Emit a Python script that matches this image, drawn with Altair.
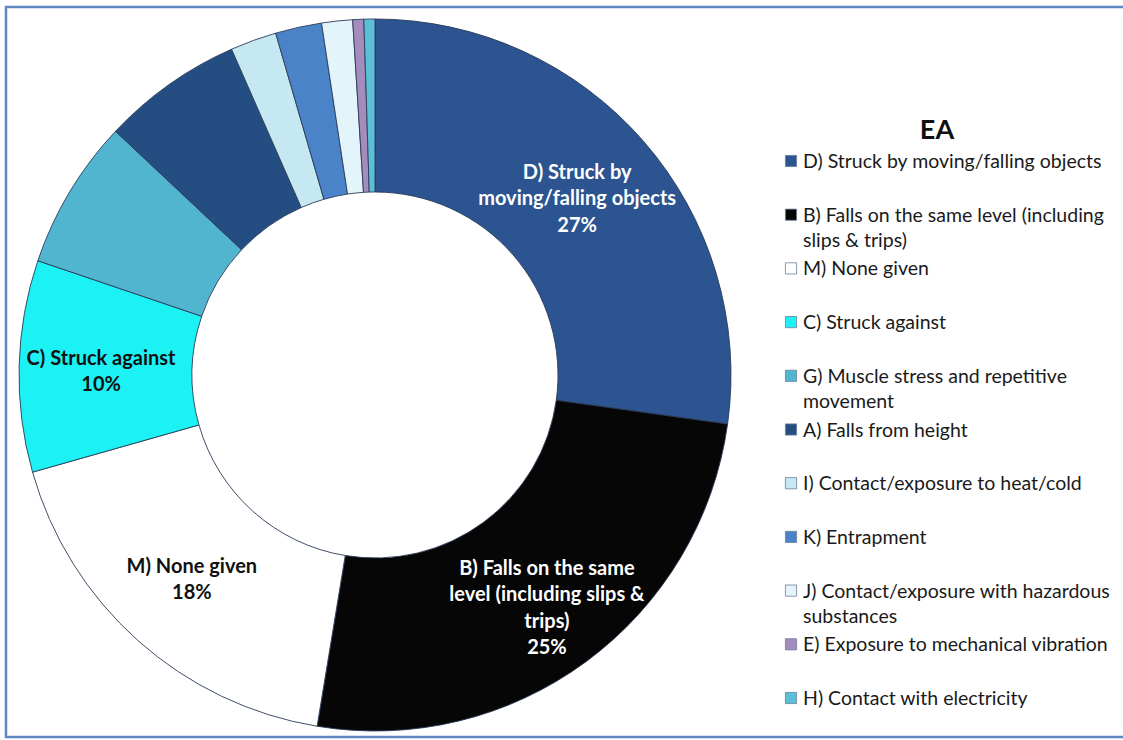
import altair as alt
import pandas as pd

# ---- data ----
categories = [
    "D) Struck by moving/falling objects",
    "B) Falls on the same level (including slips & trips)",
    "M) None given",
    "C) Struck against",
    "G) Muscle stress and repetitive movement",
    "A) Falls from height",
    "I)  Contact/exposure to heat/cold",
    "K) Entrapment",
    "J) Contact/exposure with hazardous substances",
    "E) Exposure to mechanical vibration",
    "H) Contact with electricity",
]
values = [27.2, 25.4, 18.0, 9.6, 6.8, 6.4, 2.1, 2.1, 1.4, 0.5, 0.5]
slice_label_names = [
    "D) Struck by\nmoving/falling objects",
    "B) Falls on the same\nlevel (including slips &\ntrips)",
    "M) None given",
    "C) Struck against",
]
legend_labels = [
    "D) Struck by moving/falling objects",
    "B) Falls on the same level (including\nslips & trips)",
    "M) None given",
    "C) Struck against",
    "G) Muscle stress and repetitive\nmovement",
    "A) Falls from height",
    "I)  Contact/exposure to heat/cold",
    "K) Entrapment",
    "J) Contact/exposure with hazardous\nsubstances",
    "E) Exposure to mechanical vibration",
    "H) Contact with electricity",
]
palette = [
    "#2b5490", "#060606", "#ffffff", "#1cf2f4", "#52b5d0", "#244e82",
    "#c6e8f2", "#4b83c8", "#e3f4fa", "#a48dbd", "#5cbfd8",
]
legend_title = "EA"

# ---- build table ----
labels = []
for i, v in enumerate(values):
    if i < len(slice_label_names):
        labels.append(f"{slice_label_names[i]}\n{round(v):.0f}%")
    else:
        labels.append("")

df = pd.DataFrame({
    "idx": list(range(len(categories))),
    "cat": categories,
    "value": values,
    "label": labels,
    "legend": legend_labels,
})

CX, CY = 375, 375
LH = 26.5
color_scale = alt.Scale(domain=categories, range=palette)
base = alt.Chart(df)

frame = alt.Chart(pd.DataFrame({"a": [0]})).mark_rect(
    filled=False, stroke="#5f88c2", strokeWidth=2.5
).encode(x=alt.value(6), x2=alt.value(1140), y=alt.value(7), y2=alt.value(737))

arcs = base.mark_arc(
    outerRadius=356, innerRadius=183, stroke="#2b3b58", strokeWidth=0.9
).encode(
    theta=alt.Theta("value:Q", stack=True),
    order=alt.Order("idx:Q"),
    color=alt.Color("cat:N", scale=color_scale, legend=None),
    x=alt.value(CX), y=alt.value(CY),
)

# one text layer per labelled slice, so each multi-line block can be centred
label_radii = [268, 290, 275, 274]
label_nudge = [0, 0, 0, 4]
text_layers = []
for i, r in enumerate(label_radii):
    n_lines = labels[i].count("\n") + 1
    lyr = base.transform_calculate(
        t=f"datum.idx == {i} ? datum.label : ''"
    ).mark_text(
        radius=r, font="Lato", fontWeight="bold", fontSize=20,
        lineBreak="\n", lineHeight=LH, align="center", baseline="middle",
        dy=-(n_lines - 1) * LH / 2 + label_nudge[i],
        color="#ffffff" if i < 2 else "#111111",
    ).encode(
        theta=alt.Theta("value:Q", stack=True),
        order=alt.Order("idx:Q"),
        text="t:N",
        x=alt.value(CX), y=alt.value(CY),
    )
    text_layers.append(lyr)

yscale = alt.Scale(domain=[0, 10], range=[161, 698])

leg_sq = base.mark_point(
    shape="square", filled=True, size=125, stroke="#6d7f99", strokeWidth=0.8, opacity=1
).encode(
    x=alt.value(791),
    y=alt.Y("idx:Q", scale=yscale, axis=None),
    color=alt.Color("cat:N", scale=color_scale, legend=None),
)

leg_text = base.mark_text(
    font="Lato", fontSize=19.5, align="left", baseline="alphabetic", dy=7,
    lineBreak="\n", lineHeight=25, color="#1a1a1a",
).encode(
    x=alt.value(803),
    y=alt.Y("idx:Q", scale=yscale, axis=None),
    text="legend:N",
)

title = alt.Chart(pd.DataFrame({"t": [legend_title]})).mark_text(
    font="Lato", fontSize=27, fontWeight="bold", align="center", baseline="middle", color="#111111"
).encode(x=alt.value(937), y=alt.value(131), text="t:N")

chart = alt.layer(frame, arcs, *text_layers, leg_sq, leg_text, title).properties(
    width=1123, height=740, autosize="none", padding=0, background="white"
).configure_view(stroke=None)

chart.save("out.html", embed_options={"renderer": "svg", "actions": False})
